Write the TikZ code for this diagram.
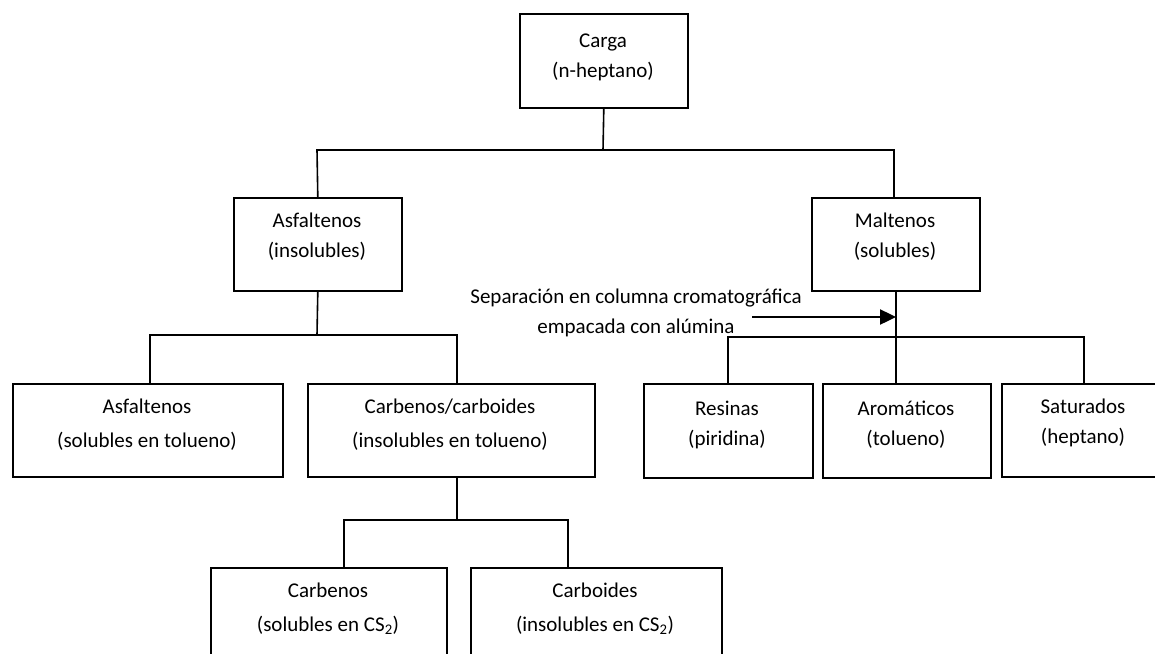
\documentclass[tikz,border=0pt]{standalone}
\usepackage{fontspec}
\setmainfont{Carlito}
\usetikzlibrary{arrows.meta}
\begin{document}
\begin{tikzpicture}[x=1pt,y=-1pt,
  boxs/.style={draw=black,line width=1.6pt,inner sep=0pt,anchor=north west},
  txt/.style={align=center,anchor=center,inner sep=0pt,font=\fontsize{21}{30}\selectfont},
  conn/.style={draw=black,line width=1.6pt},
  arr/.style={draw=black,line width=2.4pt,-{Triangle[length=16pt,width=15pt]}}]
\useasboundingbox (0,0) rectangle (1155,653);
% boxes
\node[boxs,minimum width=168,minimum height=94] (carga) at (519,13) {};
\node[txt] (cargaT) at (603,57) {Carga\\(n-heptano)};
\node[boxs,minimum width=168,minimum height=93] (asfI) at (233,197) {};
\node[txt] (asfIT) at (317,237) {Asfaltenos\\(insolubles)};
\node[boxs,minimum width=168,minimum height=93] (malt) at (811,197) {};
\node[txt] (maltT) at (895,237) {Maltenos\\(solubles)};
\node[boxs,minimum width=270,minimum height=93] (asfS) at (12,383) {};
\node[txt] (asfST) at (147,425) {Asfaltenos\\[4pt](solubles en tolueno)};
\node[boxs,minimum width=287,minimum height=93] (carbC) at (307,383) {};
\node[txt] (carbCT) at (450,425) {Carbenos/carboides\\[4pt](insolubles en tolueno)};
\node[boxs,minimum width=169,minimum height=94] (res) at (643,383) {};
\node[txt] (resT) at (727,425) {Resinas\\(piridina)};
\node[boxs,minimum width=168,minimum height=94] (arom) at (822,383) {};
\node[txt] (aromT) at (906,425) {Aromáticos\\(tolueno)};
\node[boxs,minimum width=164,minimum height=93] (sat) at (1001,383) {};
\node[txt] (satT) at (1083,423) {Saturados\\(heptano)};
\node[boxs,minimum width=236,minimum height=110] (carb) at (210,567) {};
\node[txt] (carbT) at (328,609) {Carbenos\\[4pt](solubles en CS\textsubscript{2})};
\node[boxs,minimum width=251,minimum height=110] (carbo) at (470,567) {};
\node[txt] (carboT) at (595,609) {Carboides\\[4pt](insolubles en CS\textsubscript{2})};
% label
\node[txt] (sep) at (636,313) {Separación en columna cromatográfica\\empacada con alúmina};
% junctions
\coordinate (j1) at (603,150);
\coordinate (j1l) at (317,150);
\coordinate (j1r) at (894,150);
\coordinate (j2) at (317,335);
\coordinate (j2l) at (150,335);
\coordinate (j2r) at (457,335);
\coordinate (j3) at (457,520);
\coordinate (j3l) at (344,520);
\coordinate (j3r) at (568,520);
\coordinate (j4l) at (728,337);
\coordinate (j4r) at (1084,337);
\coordinate (mb) at (896,290);
\coordinate (at) at (896,383);
\coordinate (a0) at (752,317);
\coordinate (a1) at (896,317);
% connectors
\draw[conn] (carga.south) -- (j1);
\draw[conn] (asfI.north) -- (j1l) -- (j1r) -- (j1r |- malt.north);
\draw[conn] (asfI.south) -- (j2);
\draw[conn] (j2l |- asfS.north) -- (j2l) -- (j2r) -- (j2r |- carbC.north);
\draw[conn] (j2r |- carbC.south) -- (j3);
\draw[conn] (j3l |- carb.north) -- (j3l) -- (j3r) -- (j3r |- carbo.north);
\draw[conn] (mb) -- (at);
\draw[conn] (j4l |- res.north) -- (j4l) -- (j4r) -- (j4r |- sat.north);
\draw[arr] (a0) -- (a1);
\end{tikzpicture}
\end{document}
